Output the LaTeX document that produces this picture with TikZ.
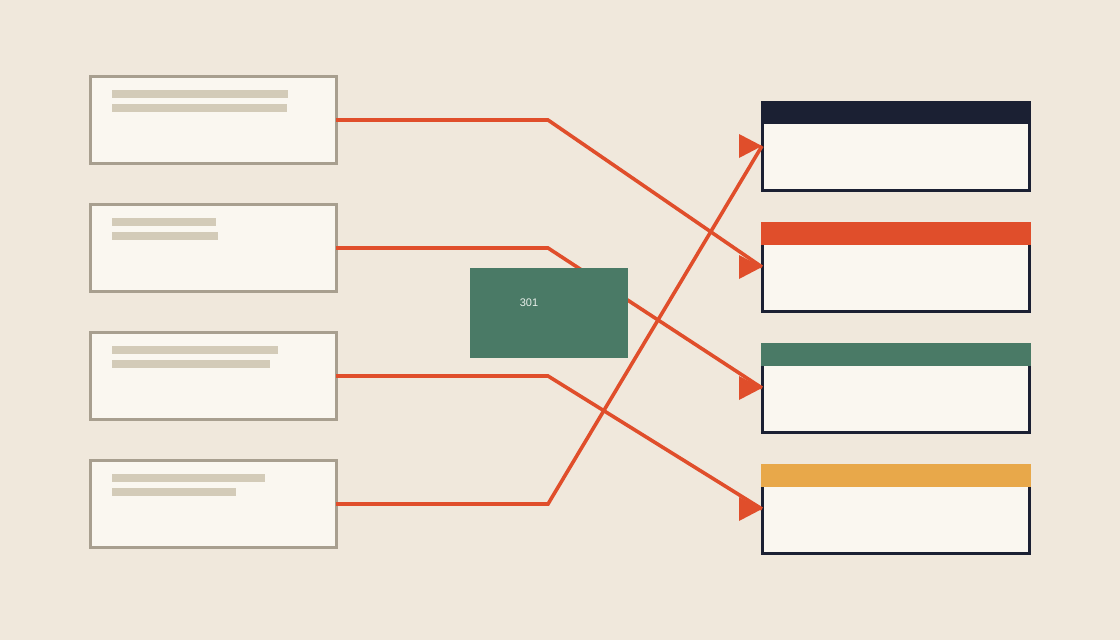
\documentclass[tikz,border=0pt]{standalone}
\usetikzlibrary{calc}
\usepackage{fontspec}
\setmainfont{Liberation Sans}
\definecolor{bgc}{HTML}{F0E8DC}
\definecolor{cardfill}{HTML}{FAF7F0}
\definecolor{srcborder}{HTML}{A89F8F}
\definecolor{barc}{HTML}{D3CBB8}
\definecolor{connc}{HTML}{E04E2B}
\definecolor{navyc}{HTML}{1B2033}
\definecolor{greenc}{HTML}{4A7A66}
\definecolor{yellowc}{HTML}{E8A84A}
\definecolor{labelc}{HTML}{E8EFEA}
\begin{document}
\begin{tikzpicture}[x=1pt,y=-1pt,
  srcbox/.style={draw=srcborder, fill=cardfill, line width=3pt, minimum width=246pt, minimum height=87pt, inner sep=0pt, outer sep=0pt},
  tgtbox/.style={fill=cardfill, draw=navyc, line width=3pt, minimum width=267pt, minimum height=88pt, inner sep=0pt, outer sep=0pt},
  barline/.style={fill=barc},
  conn/.style={draw=connc, line width=3.6pt, line join=miter},
  tiptri/.style={fill=connc},
  mid/.style={fill=greenc, minimum width=158pt, minimum height=90pt, inner sep=0pt, outer sep=0pt},
  midlabel/.style={text=labelc, font=\fontsize{11}{12}\selectfont, inner sep=0pt}
]
\useasboundingbox[fill=bgc] (0,0) rectangle (1120,640);

% source cards
\node[srcbox] (s1) at (213,120) {};
\node[srcbox] (s2) at (213,248) {};
\node[srcbox] (s3) at (213,376) {};
\node[srcbox] (s4) at (213,504) {};
\fill[barline] (112,90) rectangle (288,98);
\fill[barline] (112,104) rectangle (287,112);
\fill[barline] (112,218) rectangle (216,226);
\fill[barline] (112,232) rectangle (218,240);
\fill[barline] (112,346) rectangle (278,354);
\fill[barline] (112,360) rectangle (270,368);
\fill[barline] (112,474) rectangle (265,482);
\fill[barline] (112,488) rectangle (236,496);

% target cards
\node[tgtbox] (t1) at (895.5,146) {};
\node[tgtbox] (t2) at (895.5,267) {};
\node[tgtbox] (t3) at (895.5,388) {};
\node[tgtbox] (t4) at (895.5,509) {};
\fill[navyc] ($(t1.north west)+(-1.5,-1.5)$) rectangle ($(t1.north east)+(1.5,22)$);
\fill[connc] ($(t2.north west)+(-1.5,-1.5)$) rectangle ($(t2.north east)+(1.5,22)$);
\fill[greenc] ($(t3.north west)+(-1.5,-1.5)$) rectangle ($(t3.north east)+(1.5,22)$);
\fill[yellowc] ($(t4.north west)+(-1.5,-1.5)$) rectangle ($(t4.north east)+(1.5,22)$);

% connectors
\coordinate (bx) at (548,0);
\draw[conn] (s1.east) -- (s1.east -| bx) -- (t2.west);
\draw[conn] (s2.east) -- (s2.east -| bx) -- (t3.west);
\draw[conn] (s3.east) -- (s3.east -| bx) -- (t4.west);
\draw[conn] (s4.east) -- (s4.east -| bx) -- (t1.west);
\fill[tiptri] (t1.west) -- ++(-23,-12) -- ++(0,24) -- cycle;
\fill[tiptri] (t2.west) -- ++(-23,-12) -- ++(0,24) -- cycle;
\fill[tiptri] (t3.west) -- ++(-23,-12) -- ++(0,24) -- cycle;
\fill[tiptri] (t4.west) -- ++(-23,-12) -- ++(0,24) -- cycle;

% middle box
\node[mid] (m) at (549,313) {};
\node[midlabel] (ml) at (529,303) {301};
\end{tikzpicture}
\end{document}
